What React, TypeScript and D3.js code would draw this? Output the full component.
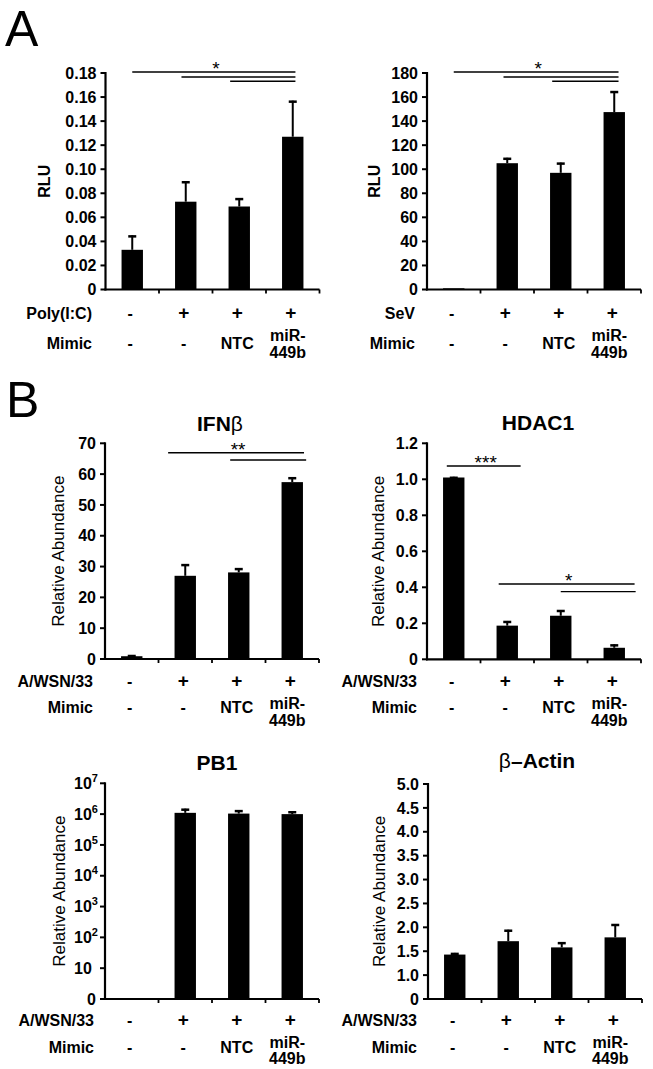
import React from 'react';
import * as d3 from 'd3';

// ---------- data ----------
const categories = ['ctrl', 'stim', 'ntc', 'mir449b'];
const polyICRow = ['-', '+', '+', '+'];
const sevRow = ['-', '+', '+', '+'];
const wsnRow = ['-', '+', '+', '+'];
const mimicRow = ['-', '-', 'NTC', 'miR-|449b'];

const rluPolyIC = [0.033, 0.073, 0.069, 0.127];
const rluPolyICErr = [0.012, 0.017, 0.007, 0.030];
const rluSeV = [1, 105, 97, 147.5];
const rluSeVErr = [0, 4.5, 8.5, 17.5];
const ifnb = [0.9, 27.0, 28.1, 57.4];
const ifnbErr = [0.4, 3.8, 1.4, 1.6];
const hdac1 = [1.01, 0.187, 0.242, 0.064];
const hdac1Err = [0.004, 0.026, 0.032, 0.019];
const pb1 = [0, 1.1e6, 1.04e6, 1.0e6];
const pb1Err = [0, 0.4e6, 0.31e6, 0.24e6];
const bactin = [1.43, 1.71, 1.58, 1.79];
const bactinErr = [0.035, 0.24, 0.11, 0.28];

const ticksPolyIC = [0, 0.02, 0.04, 0.06, 0.08, 0.1, 0.12, 0.14, 0.16, 0.18];
const labelsPolyIC = ['0', '0.02', '0.04', '0.06', '0.08', '0.10', '0.12', '0.14', '0.16', '0.18'];
const ticksSeV = [0, 20, 40, 60, 80, 100, 120, 140, 160, 180];
const ticksIFN = [0, 10, 20, 30, 40, 50, 60, 70];
const ticksHDAC = [0, 0.2, 0.4, 0.6, 0.8, 1.0, 1.2];
const labelsHDAC = ['0', '0.2', '0.4', '0.6', '0.8', '1.0', '1.2'];
const ticksPB1 = [1, 10, 1e2, 1e3, 1e4, 1e5, 1e6, 1e7];
const labelsPB1 = ['0', '10', '10', '10', '10', '10', '10', '10'];
const supsPB1 = ['', '', '2', '3', '4', '5', '6', '7'];
const ticksActin = [0, 1.0, 1.5, 2.0, 2.5, 3.0, 3.5, 4.0, 4.5, 5.0];
const labelsActin = ['0', '1.0', '1.5', '2.0', '2.5', '3.0', '3.5', '4.0', '4.5', '5.0'];

// significance brackets: [from index, to index, value]
const sigPolyIC: [number, number, number][] = [[0, 3.05, 0.1808], [0.92, 3.05, 0.1767], [1.83, 3.05, 0.1731]];
const sigSeV: [number, number, number][] = [[0, 3.08, 180.8], [0.93, 3.08, 176.7], [1.84, 3.08, 173.1]];
const sigIFN: [number, number, number][] = [[0.68, 3.22, 66.95], [1.84, 3.26, 64.6]];
const sigHDACa: [number, number, number][] = [[-0.13, 1.25, 1.074]];
const sigHDACb: [number, number, number][] = [[0.84, 3.38, 0.418], [2.0, 3.4, 0.376]];

const FONT = "'Liberation Sans', Arial, Helvetica, sans-serif";

type Seg = [string, boolean];

interface PanelCfg {
  x0: number; w: number; yTop: number; yBot: number;
  y: any;
  values: number[]; errs: number[];
  ticks: number[]; tickLabels: string[]; sups?: string[];
  yLabel: string; yLabelBold: boolean; yLabelX: number; yLabelSize: number;
  title?: Seg[]; titleX?: number; titleY?: number;
  rowName: string; row1: string[];
  labelEnd: number; r1: number; r2: number; r2a: number; r2b: number;
  sigs: { lines: [number, number, number][]; star: string }[];
  logScale?: boolean;
}

function Panel({ c }: { c: PanelCfg }) {
  const xb = d3.scaleBand<string>().domain(categories).range([c.x0, c.x0 + c.w]);
  const bw = xb.bandwidth();
  const cx = (i: number) => (xb(categories[i]) as number) + bw / 2;
  const fx = (f: number) => c.x0 + bw * (f + 0.5);
  const barW = bw * 0.4;
  const base = c.yBot;
  const els: React.ReactNode[] = [];

  // bars and error bars
  c.values.forEach((v, i) => {
    if (c.logScale && v <= 0) return;
    const yt = c.y(v);
    els.push(<rect key={'b' + i} x={cx(i) - barW / 2} y={yt} width={barW} height={base - yt} fill="#000" />);
    if (c.errs[i] > 0) {
      const ye = c.y(v + c.errs[i]);
      els.push(<line key={'e' + i} x1={cx(i)} x2={cx(i)} y1={yt} y2={ye} stroke="#000" strokeWidth={2} />);
      els.push(<line key={'c' + i} x1={cx(i) - 4} x2={cx(i) + 4} y1={ye + 1} y2={ye + 1} stroke="#000" strokeWidth={2.5} />);
    }
  });

  // axes
  els.push(<line key="ya" x1={c.x0} x2={c.x0} y1={c.yTop - 1} y2={base + 1} stroke="#000" strokeWidth={2.2} />);
  els.push(<line key="xa" x1={c.x0 - 1} x2={c.x0 + c.w} y1={base} y2={base} stroke="#000" strokeWidth={2.2} />);
  for (let k = 1; k <= categories.length; k++) {
    const xx = c.x0 + bw * k;
    els.push(<line key={'xt' + k} x1={xx} x2={xx} y1={base} y2={base + 4} stroke="#000" strokeWidth={1.8} />);
  }
  c.ticks.forEach((t, i) => {
    const yy = c.y(t);
    els.push(<line key={'yt' + i} x1={c.x0 - 5} x2={c.x0} y1={yy} y2={yy} stroke="#000" strokeWidth={2} />);
    const sup = c.sups ? c.sups[i] : '';
    if (c.sups && (i > 0)) {
      els.push(
        <text key={'yl' + i} x={c.x0 - 31} y={yy + 5.7} fontSize={16} fontWeight="bold" textAnchor="start">
          {c.tickLabels[i]}
          {sup && <tspan fontSize={11} dy={-7}>{sup}</tspan>}
        </text>
      );
    } else {
      els.push(
        <text key={'yl' + i} x={c.x0 - 9} y={yy + 5.7} fontSize={16} fontWeight="bold" textAnchor="end">{c.tickLabels[i]}</text>
      );
    }
  });

  // y label
  els.push(
    <text key="ylab" transform={`translate(${c.yLabelX},${(c.yTop + base) / 2}) rotate(-90)`} textAnchor="middle"
      fontSize={c.yLabelSize} fontWeight={c.yLabelBold ? 'bold' : 'normal'}>{c.yLabel}</text>
  );

  // title
  if (c.title) {
    els.push(
      <text key="title" x={c.titleX} y={c.titleY} textAnchor="middle" fontSize={21}>
        {c.title.map((s, i) => <tspan key={i} fontWeight={s[1] ? 'bold' : 'normal'}>{s[0]}</tspan>)}
      </text>
    );
  }

  // row labels
  els.push(<text key="rn1" x={c.labelEnd} y={base + c.r1} textAnchor="end" fontSize={16} fontWeight="bold">{c.rowName}</text>);
  els.push(<text key="rn2" x={c.labelEnd} y={base + c.r2} textAnchor="end" fontSize={16} fontWeight="bold">Mimic</text>);
  c.row1.forEach((s, i) => {
    els.push(<text key={'r1' + i} x={cx(i) - 2} y={base + c.r1} textAnchor="middle" fontSize={s === '+' ? 19 : 16} fontWeight="bold">{s}</text>);
  });
  mimicRow.forEach((s, i) => {
    if (s.includes('|')) {
      const [a, b] = s.split('|');
      els.push(<text key={'r2a' + i} x={cx(i) - 5} y={base + c.r2a} textAnchor="middle" fontSize={16} fontWeight="bold">{a}</text>);
      els.push(<text key={'r2b' + i} x={cx(i) - 5} y={base + c.r2b} textAnchor="middle" fontSize={16} fontWeight="bold">{b}</text>);
    } else {
      els.push(<text key={'r2' + i} x={cx(i) - 2} y={base + c.r2} textAnchor="middle" fontSize={16} fontWeight="bold">{s}</text>);
    }
  });

  // significance
  c.sigs.forEach((g, gi) => {
    g.lines.forEach((l, li) => {
      const yy = c.y(l[2]);
      els.push(<line key={`s${gi}_${li}`} x1={fx(l[0])} x2={fx(l[1])} y1={yy} y2={yy} stroke="#000" strokeWidth={1.4} />);
    });
    const f = g.lines[0];
    const sy = c.y(f[2]);
    els.push(<text key={'st' + gi} x={(fx(f[0]) + fx(f[1])) / 2 + 2} y={sy + 3} textAnchor="middle" fontSize={19}>{g.star}</text>);
  });

  return <g>{els}</g>;
}

export default function App() {
  const W = 653, H = 1069;
  const aL = { x0: 105.5, w: 214, yTop: 73, yBot: 289.5 };
  const aR = { x0: 427, w: 214, yTop: 73, yBot: 289.5 };
  const bTL = { x0: 105, w: 214, yTop: 443.3, yBot: 659 };
  const bTR = { x0: 427, w: 214, yTop: 443.3, yBot: 659.3 };
  const bBL = { x0: 105, w: 214, yTop: 783.3, yBot: 999 };
  const bBR = { x0: 428, w: 214, yTop: 784, yBot: 999 };
  const rowA = { r1: 29.5, r2: 59, r2a: 51.2, r2b: 68 };
  const rowBT = { r1: 27.5, r2: 54, r2a: 49.7, r2b: 66.5 };
  const rowBB = { r1: 26.5, r2: 54, r2a: 48.5, r2b: 64.5 };
  const actinStep = (bBR.yBot - bBR.yTop) / 9;

  const panels: PanelCfg[] = [
    {
      ...aL, ...rowA,
      y: d3.scaleLinear().domain([0, 0.18]).range([aL.yBot, aL.yTop]),
      values: rluPolyIC, errs: rluPolyICErr, ticks: ticksPolyIC, tickLabels: labelsPolyIC,
      yLabel: 'RLU', yLabelBold: true, yLabelX: 50, yLabelSize: 16,
      rowName: 'Poly(I:C)', row1: polyICRow, labelEnd: 92,
      sigs: [{ lines: sigPolyIC, star: '*' }],
    },
    {
      ...aR, ...rowA,
      y: d3.scaleLinear().domain([0, 180]).range([aR.yBot, aR.yTop]),
      values: rluSeV, errs: rluSeVErr, ticks: ticksSeV, tickLabels: ticksSeV.map(String),
      yLabel: 'RLU', yLabelBold: true, yLabelX: 380, yLabelSize: 16,
      rowName: 'SeV', row1: sevRow, labelEnd: 415,
      sigs: [{ lines: sigSeV, star: '*' }],
    },
    {
      ...bTL, ...rowBT,
      y: d3.scaleLinear().domain([0, 70]).range([bTL.yBot, bTL.yTop]),
      values: ifnb, errs: ifnbErr, ticks: ticksIFN, tickLabels: ticksIFN.map(String),
      yLabel: 'Relative Abundance', yLabelBold: false, yLabelX: 64, yLabelSize: 17,
      title: [['IFN', true], ['β', false]], titleX: 220, titleY: 430.5,
      rowName: 'A/WSN/33', row1: wsnRow, labelEnd: 93,
      sigs: [{ lines: sigIFN, star: '**' }],
    },
    {
      ...bTR, ...rowBT,
      y: d3.scaleLinear().domain([0, 1.2]).range([bTR.yBot, bTR.yTop]),
      values: hdac1, errs: hdac1Err, ticks: ticksHDAC, tickLabels: labelsHDAC,
      yLabel: 'Relative Abundance', yLabelBold: false, yLabelX: 384, yLabelSize: 17,
      title: [['HDAC1', true]], titleX: 538, titleY: 430,
      rowName: 'A/WSN/33', row1: wsnRow, labelEnd: 417,
      sigs: [{ lines: sigHDACa, star: '***' }, { lines: sigHDACb, star: '*' }],
    },
    {
      ...bBL, ...rowBB,
      y: d3.scaleLog().domain([1, 1e7]).range([bBL.yBot, bBL.yTop]),
      values: pb1, errs: pb1Err, ticks: ticksPB1, tickLabels: labelsPB1, sups: supsPB1, logScale: true,
      yLabel: 'Relative Abundance', yLabelBold: false, yLabelX: 65, yLabelSize: 17,
      title: [['PB1', true]], titleX: 217, titleY: 770,
      rowName: 'A/WSN/33', row1: wsnRow, labelEnd: 94,
      sigs: [],
    },
    {
      ...bBR, ...rowBB,
      y: d3.scaleLinear().domain([0, 1, 5]).range([bBR.yBot, bBR.yBot - actinStep, bBR.yTop]),
      values: bactin, errs: bactinErr, ticks: ticksActin, tickLabels: labelsActin,
      yLabel: 'Relative Abundance', yLabelBold: false, yLabelX: 385, yLabelSize: 17,
      title: [['β', false], ['–Actin', true]], titleX: 537, titleY: 768,
      rowName: 'A/WSN/33', row1: wsnRow, labelEnd: 417,
      sigs: [],
    },
  ];

  return (
    <svg width={W} height={H} viewBox={`0 0 ${W} ${H}`}
      style={{ position: 'absolute', left: 0, top: 0, background: '#fff' }}
      fontFamily={FONT}>
      <rect x={0} y={0} width={W} height={H} fill="#fff" />
      <text x={5} y={45.5} fontSize={50}>A</text>
      <text x={6} y={417} fontSize={50}>B</text>
      {panels.map((p, i) => <Panel key={i} c={p} />)}
    </svg>
  );
}
